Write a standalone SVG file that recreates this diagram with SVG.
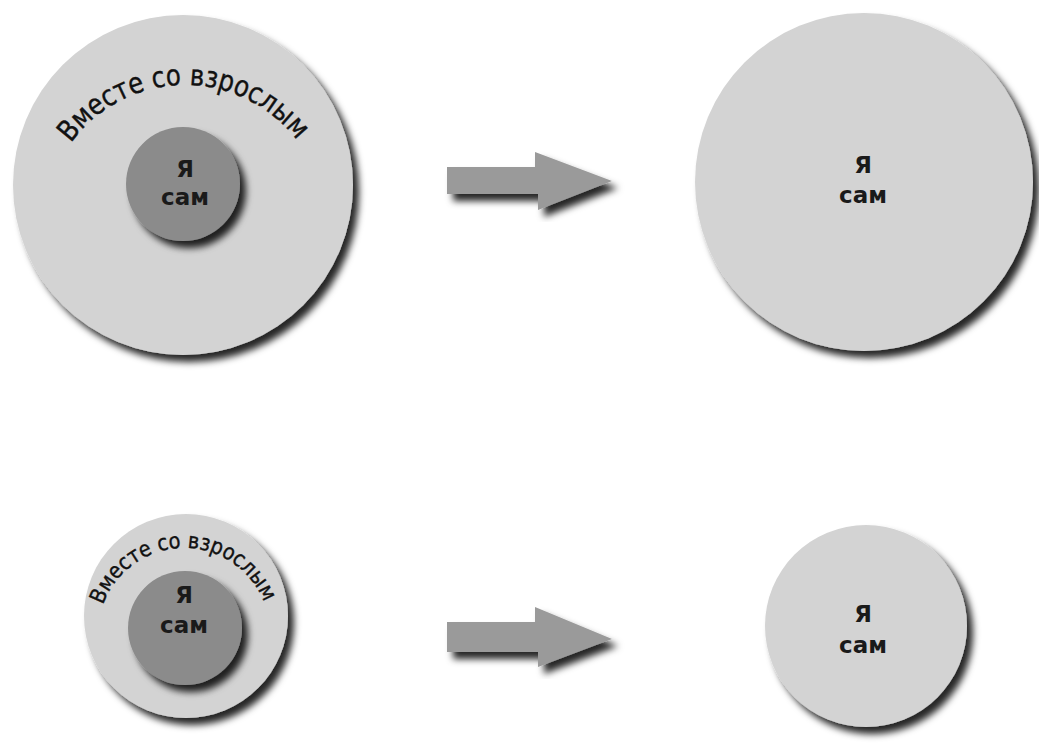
<svg xmlns="http://www.w3.org/2000/svg" width="1039" height="744" viewBox="0 0 1039 744">
<defs>
<filter id="sh" x="-20%" y="-20%" width="140%" height="140%">
<feDropShadow dx="6" dy="7" stdDeviation="3.5" flood-color="#000" flood-opacity="0.85"/>
</filter>
<path id="arcTop" d="M 70.9,143.1 A 141 141 0 0 1 297.6,141.2"/>
<path id="arcBot" d="M 103,605 A 86 86 0 0 1 265,605"/>
</defs>
<style>
.outer{fill:#d3d3d3;filter:url(#sh)}
.inner{fill:#8b8b8b;filter:url(#sh)}
.arrow{fill:#9a9a9a;filter:url(#sh)}
.lbl{font-family:"DejaVu Sans",Verdana,sans-serif;font-size:23px;font-weight:bold;fill:#1a1a1a;text-anchor:middle}
.arc{font-family:"DejaVu Sans",Verdana,sans-serif;fill:#111;stroke:#111;stroke-width:0.4}
</style>
<rect width="1039" height="744" fill="#fff"/>
<g id="node-top-left">
<circle class="outer" cx="183" cy="185" r="170"/>
<text class="arc" font-size="29"><textPath href="#arcTop" textLength="262" lengthAdjust="spacingAndGlyphs">Вместе со взрослым</textPath></text>
<g id="node-top-left-inner">
<circle class="inner" cx="183" cy="184" r="57"/>
<text class="lbl" x="185" y="177">Я</text>
<text class="lbl" x="185" y="205">сам</text>
</g>
</g>
<g id="node-top-right">
<circle class="outer" cx="864" cy="182" r="169"/>
<text class="lbl" x="863" y="173">Я</text>
<text class="lbl" x="863" y="203">сам</text>
</g>
<g id="node-bottom-left">
<circle class="outer" cx="186" cy="616" r="102"/>
<text class="arc" font-size="22"><textPath href="#arcBot" textLength="208" lengthAdjust="spacingAndGlyphs">Вместе со взрослым</textPath></text>
<g id="node-bottom-left-inner">
<circle class="inner" cx="185" cy="628" r="57"/>
<text class="lbl" x="184" y="603">Я</text>
<text class="lbl" x="184" y="633">сам</text>
</g>
</g>
<g id="node-bottom-right">
<circle class="outer" cx="866" cy="626" r="101"/>
<text class="lbl" x="863" y="622">Я</text>
<text class="lbl" x="863" y="653">сам</text>
</g>
<g id="connectors">
<polygon class="arrow" points="447,167 535,167 535,152 612,181 538,210 538,194 447,194"/>
<polygon class="arrow" points="447,622 535,622 535,607 612,639 538,667 538,652 447,652"/>
</g>
</svg>
